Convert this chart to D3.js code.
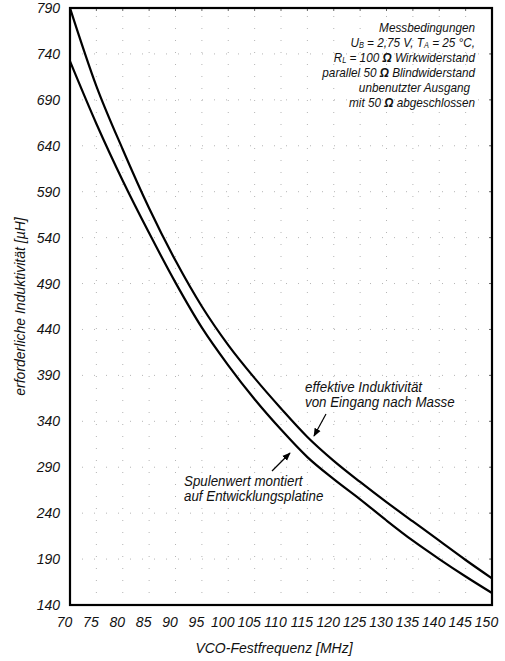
<!DOCTYPE html>
<html>
<head>
<meta charset="utf-8">
<script src="https://cdn.jsdelivr.net/npm/d3@7"></script>
<style>
body { margin: 0; background: #fff; }
svg text { font-family: "Liberation Sans Narrow", "Arial Narrow", "Liberation Sans", sans-serif; font-style: italic; fill: #111; }
</style>
</head>
<body>
<svg id="chart"></svg>
<script>
var width = 505;
var height = 661;

// frequencies (MHz)
var freq = [70, 75, 80, 85, 90, 95, 100, 105, 110, 115, 120, 125, 130, 135, 140, 145, 150];
// effektive Induktivitaet von Eingang nach Masse (uH)
var effektiv = [790, 705, 636, 572, 515, 465, 423, 387, 354, 323, 297, 274, 252, 231, 210, 189, 169];
// Spulenwert montiert auf Entwicklungsplatine (uH)
var spule = [732, 664, 602, 545, 491, 442, 401, 364, 331, 301, 277, 255, 232, 210, 190, 171, 153];

var xTicks = [70, 75, 80, 85, 90, 95, 100, 105, 110, 115, 120, 125, 130, 135, 140, 145, 150];
var yTicks = [140, 190, 240, 290, 340, 390, 440, 490, 540, 590, 640, 690, 740, 790];

var margin = {top: 8, right: 13, bottom: 56, left: 70};

var svg = d3.select("#chart").attr("width", width).attr("height", height);

var x = d3.scaleLinear().domain([70, 150]).range([margin.left, width - margin.right]);
var y = d3.scaleLinear().domain([140, 790]).range([height - margin.bottom, margin.top]);

// sparse dotted grid
var grid = svg.append("g").style("stroke", "#b5b5b5").style("stroke-width", "1px").style("stroke-dasharray", "1,11");
grid.selectAll("line.h")
    .data(yTicks.slice(1, -1))
    .enter().append("line")
    .attr("x1", x(70)).attr("x2", x(150))
    .attr("y1", function (d) { return y(d); })
    .attr("y2", function (d) { return y(d); });
grid.selectAll("line.v")
    .data(xTicks.slice(1, -1))
    .enter().append("line")
    .attr("y1", y(140)).attr("y2", y(790))
    .attr("x1", function (d) { return x(d); })
    .attr("x2", function (d) { return x(d); });

// axes
var xAxis = svg.append("g")
    .attr("transform", "translate(0," + y(140) + ")")
    .call(d3.axisBottom(x).tickValues(xTicks).tickSize(0).tickPadding(12));
xAxis.select(".domain").remove();
xAxis.selectAll("text").style("font-size", "14px").attr("dx", "-6");

var yAxis = svg.append("g")
    .attr("transform", "translate(" + x(70) + ",0)")
    .call(d3.axisLeft(y).tickValues(yTicks).tickSize(0).tickPadding(10));
yAxis.select(".domain").remove();
yAxis.selectAll("text").style("font-size", "14px");

// small inner ticks top and right
svg.append("g").selectAll("line")
    .data(xTicks)
    .enter().append("line")
    .attr("x1", function (d) { return x(d); }).attr("x2", function (d) { return x(d); })
    .attr("y1", y(790)).attr("y2", y(790) + 3)
    .style("stroke", "#666");
svg.append("g").selectAll("line")
    .data(yTicks)
    .enter().append("line")
    .attr("y1", function (d) { return y(d); }).attr("y2", function (d) { return y(d); })
    .attr("x1", x(150)).attr("x2", x(150) - 3)
    .style("stroke", "#666");

// frame
svg.append("rect")
    .attr("x", x(70)).attr("y", y(790))
    .attr("width", x(150) - x(70)).attr("height", y(140) - y(790))
    .style("fill", "none").style("stroke", "#000").style("stroke-width", "2.2px");

// curves
var line = d3.line()
    .x(function (d) { return x(d[0]); })
    .y(function (d) { return y(d[1]); })
    .curve(d3.curveMonotoneX);

svg.append("path")
    .datum(d3.zip(freq, effektiv))
    .attr("d", line)
    .style("fill", "none").style("stroke", "#000").style("stroke-width", "2.2px");
svg.append("path")
    .datum(d3.zip(freq, spule))
    .attr("d", line)
    .style("fill", "none").style("stroke", "#000").style("stroke-width", "2.2px");

// axis titles
svg.append("text")
    .attr("x", 274).attr("y", 653)
    .attr("text-anchor", "middle")
    .style("font-size", "14px")
    .text("VCO-Festfrequenz [MHz]");

svg.append("text")
    .attr("transform", "translate(25," + ((y(140) + y(790)) / 2) + ") rotate(-90)")
    .attr("text-anchor", "middle")
    .style("font-size", "14px")
    .text("erforderliche Induktivität [µH]");

// condensed text helper (horizontal scale)
function condText(xx, yy, size, sx, anchor) {
    return svg.append("text")
        .attr("transform", "translate(" + xx + "," + yy + ") scale(" + sx + ",1)")
        .attr("text-anchor", anchor)
        .style("font-size", size + "px");
}

// conditions box
condText(475, 32, 13.5, 0.87, "end").text("Messbedingungen");
var l2 = condText(475, 47, 13.5, 0.87, "end");
l2.append("tspan").text("U");
l2.append("tspan").attr("dy", 1).style("font-size", "8.5px").text("B");
l2.append("tspan").attr("dy", -1).text(" = 2,75 V, T");
l2.append("tspan").attr("dy", 1).style("font-size", "8.5px").text("A");
l2.append("tspan").attr("dy", -1).text(" = 25 °C,");
var l3 = condText(475, 62, 13.5, 0.87, "end");
l3.append("tspan").text("R");
l3.append("tspan").attr("dy", 1).style("font-size", "8.5px").text("L");
l3.append("tspan").attr("dy", -1).text(" = 100 ");
l3.append("tspan").style("font-weight", "bold").text("Ω");
l3.append("tspan").text(" Wirkwiderstand");
var l4 = condText(475, 77, 13.5, 0.87, "end");
l4.append("tspan").text("parallel 50 ");
l4.append("tspan").style("font-weight", "bold").text("Ω");
l4.append("tspan").text(" Blindwiderstand");
condText(470, 92, 13.5, 0.87, "end").text("unbenutzter Ausgang");
var l6 = condText(475, 107, 13.5, 0.87, "end");
l6.append("tspan").text("mit 50 ");
l6.append("tspan").style("font-weight", "bold").text("Ω");
l6.append("tspan").text(" abgeschlossen");

// annotations
condText(305, 392, 14.5, 0.92, "start").text("effektive Induktivität");
condText(305, 407, 14.5, 0.92, "start").text("von Eingang nach Masse");
condText(184, 486, 14.5, 0.92, "start").text("Spulenwert montiert");
condText(184, 501, 14.5, 0.92, "start").text("auf Entwicklungsplatine");

svg.append("defs").append("marker")
    .attr("id", "arr").attr("viewBox", "0 0 10 10")
    .attr("refX", 9).attr("refY", 5)
    .attr("markerWidth", 7).attr("markerHeight", 7)
    .attr("orient", "auto")
    .append("path").attr("d", "M0,1 L10,5 L0,9 Z").style("fill", "#000");

svg.append("line")
    .attr("x1", 326).attr("y1", 414).attr("x2", 314).attr("y2", 436)
    .style("stroke", "#000").style("stroke-width", "1.2px").attr("marker-end", "url(#arr)");
svg.append("line")
    .attr("x1", 272).attr("y1", 471).attr("x2", 290).attr("y2", 453)
    .style("stroke", "#000").style("stroke-width", "1.2px").attr("marker-end", "url(#arr)");
</script>
</body>
</html>
